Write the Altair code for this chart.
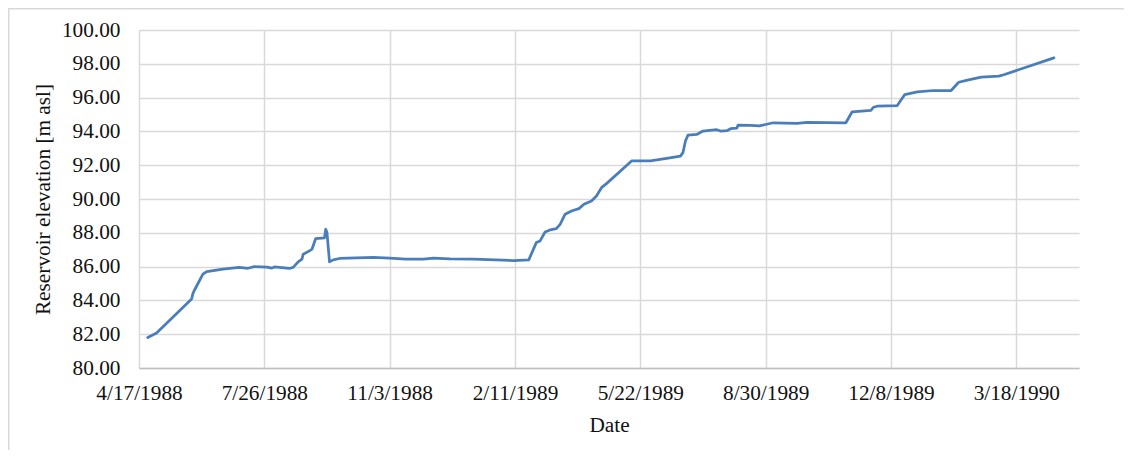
import altair as alt
import pandas as pd

# ---- data ----
dates = [
    "1988-04-24", "1988-05-01", "1988-05-29", "1988-05-30", "1988-05-31",
    "1988-06-07", "1988-06-10", "1988-06-23", "1988-07-06", "1988-07-13",
    "1988-07-18", "1988-07-28", "1988-08-01", "1988-08-03", "1988-08-15",
    "1988-08-18", "1988-08-22", "1988-08-25", "1988-08-26", "1988-08-31",
    "1988-09-02", "1988-09-05", "1988-09-12", "1988-09-13", "1988-09-14",
    "1988-09-16", "1988-09-19", "1988-09-24", "1988-10-21", "1988-11-03",
    "1988-11-16", "1988-11-30", "1988-12-08", "1988-12-21", "1989-01-09",
    "1989-02-10", "1989-02-22", "1989-02-28", "1989-03-03", "1989-03-07",
    "1989-03-11", "1989-03-16", "1989-03-19", "1989-03-23", "1989-03-28",
    "1989-04-03", "1989-04-07", "1989-04-13", "1989-04-17", "1989-04-21",
    "1989-04-25", "1989-05-15", "1989-05-30", "1989-06-12", "1989-06-23",
    "1989-06-25", "1989-06-27", "1989-06-29", "1989-07-06", "1989-07-11",
    "1989-07-22", "1989-07-25", "1989-07-30", "1989-08-02", "1989-08-07",
    "1989-08-08", "1989-08-18", "1989-08-25", "1989-08-30", "1989-09-05",
    "1989-09-24", "1989-10-02", "1989-11-02", "1989-11-07", "1989-11-22",
    "1989-11-24", "1989-11-27", "1989-12-13", "1989-12-19", "1989-12-29",
    "1990-01-11", "1990-01-25", "1990-01-31", "1990-02-07", "1990-02-18",
    "1990-03-04", "1990-03-08", "1990-04-17",
]
elevation = [
    81.80, 82.07, 84.08, 84.40, 84.57,
    85.55, 85.70, 85.85, 85.95, 85.90,
    86.00, 85.97, 85.91, 85.98, 85.89,
    85.95, 86.28, 86.44, 86.73, 86.93,
    87.03, 87.66, 87.70, 88.21, 88.00,
    86.28, 86.40, 86.48, 86.54, 86.50,
    86.44, 86.44, 86.50, 86.46, 86.44,
    86.36, 86.40, 87.42, 87.52, 88.05,
    88.17, 88.25, 88.50, 89.10, 89.29,
    89.43, 89.69, 89.88, 90.18, 90.67,
    90.91, 92.25, 92.25, 92.40, 92.54,
    92.74, 93.43, 93.78, 93.82, 94.02,
    94.10, 94.02, 94.04, 94.16, 94.19,
    94.37, 94.35, 94.33, 94.41, 94.51,
    94.47, 94.53, 94.51, 95.16, 95.24,
    95.43, 95.49, 95.53, 96.18, 96.34,
    96.42, 96.42, 96.91, 97.03, 97.21,
    97.27, 97.35, 98.35,
]
x_tick_dates = [
    (1988, 4, 17), (1988, 7, 26), (1988, 11, 3), (1989, 2, 11),
    (1989, 5, 22), (1989, 8, 30), (1989, 12, 8), (1990, 3, 18),
]
x_domain = [(1988, 4, 17), (1990, 5, 7)]
y_ticks = [80, 82, 84, 86, 88, 90, 92, 94, 96, 98, 100]

df = pd.DataFrame({"Date": dates, "Elevation": elevation})

FONT = "Liberation Serif"
FS = 21.3
TXT = "#111111"
GRID = "#d9d9d9"
W, H = 940, 338
PAD = {"left": 131, "top": 22, "right": 45, "bottom": 82}


def dt(t):
    return alt.DateTime(year=t[0], month=t[1], date=t[2], utc=True)


line = alt.Chart(df).mark_line(
    color="#4A7EBB", strokeWidth=2.75, strokeJoin="round", strokeCap="round"
).encode(
    x=alt.X(
        "Date:T",
        scale=alt.Scale(type="utc", domain=[dt(t) for t in x_domain]),
        axis=alt.Axis(
            values=[dt(t) for t in x_tick_dates],
            labelExpr="utcFormat(datum.value, '%-m/%-d/%Y')",
            title="Date",
            grid=True,
            gridColor=GRID,
            gridWidth=1.5,
            domainColor="#bfbfbf",
            domainWidth=1.5,
            ticks=False,
            labelPadding=14,
            labelFont=FONT,
            labelFontSize=FS,
            labelColor=TXT,
            labelFlush=False,
            labelOverlap=False,
            titleFont=FONT,
            titleFontSize=FS,
            titleFontWeight="normal",
            titleColor=TXT,
            titleY=63,
            titleBaseline="alphabetic",
        ),
    ),
    y=alt.Y(
        "Elevation:Q",
        scale=alt.Scale(domain=[80, 100], nice=False, zero=False),
        axis=alt.Axis(
            values=y_ticks,
            format=".2f",
            title="Reservoir elevation [m asl]",
            grid=True,
            gridColor=GRID,
            gridWidth=1.5,
            domain=False,
            ticks=False,
            labelPadding=19,
            labelFont=FONT,
            labelFontSize=FS,
            labelColor=TXT,
            labelOverlap=False,
            titleFont=FONT,
            titleFontSize=FS,
            titleFontWeight="normal",
            titleColor=TXT,
            titleAngle=270,
            titleX=-89.5,
            titleY=H / 2,
            titleBaseline="alphabetic",
        ),
    ),
)

frame_df = pd.DataFrame({"k": [0]})
frame_top = alt.Chart(frame_df).mark_rule(color=GRID, strokeWidth=1.5).encode(
    x=alt.value(-PAD["left"]), x2=alt.value(W + PAD["right"]), y=alt.value(-PAD["top"] + 0.75)
)
frame_left = alt.Chart(frame_df).mark_rule(color=GRID, strokeWidth=1.5).encode(
    x=alt.value(-PAD["left"] + 0.75), y=alt.value(-PAD["top"]), y2=alt.value(H + PAD["bottom"])
)

chart = alt.layer(line, frame_top, frame_left).properties(
    width=W,
    height=H,
    autosize=alt.AutoSizeParams(type="none"),
    padding=PAD,
    background="white",
).configure_view(stroke=None)

chart.save("out.html", embed_options={"renderer": "svg", "actions": False})
